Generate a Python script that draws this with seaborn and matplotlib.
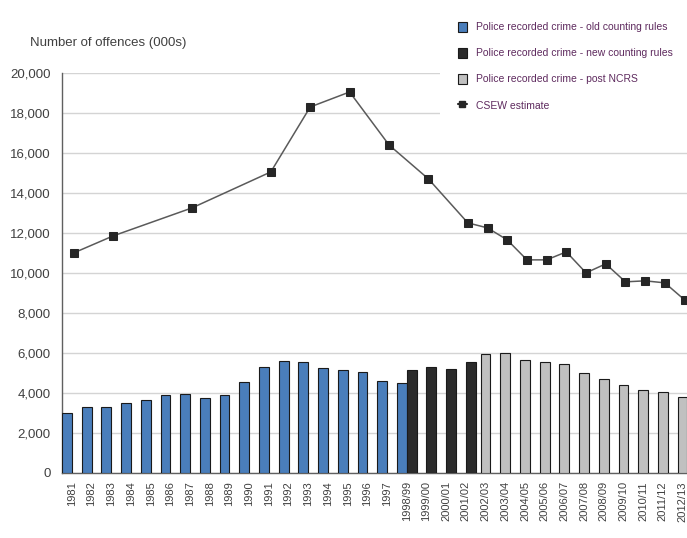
import numpy as np
import pandas as pd
import seaborn as sns
import matplotlib
matplotlib.use('Agg')
import matplotlib.pyplot as plt
from matplotlib.patches import Patch, Rectangle
from matplotlib.lines import Line2D

# Categories on the x axis
categories = ['1981', '1982', '1983', '1984', '1985', '1986', '1987', '1988', '1989',
              '1990', '1991', '1992', '1993', '1994', '1995', '1996', '1997',
              '1998/99', '1999/00', '2000/01', '2001/02', '2002/03', '2003/04',
              '2004/05', '2005/06', '2006/07', '2007/08', '2008/09', '2009/10',
              '2010/11', '2011/12', '2012/13']

# Police recorded crime - old counting rules (1981 .. 1998/99)
old_years = categories[:18]
old_values = [3000, 3280, 3280, 3500, 3620, 3870, 3930, 3720, 3870,
              4530, 5300, 5610, 5520, 5250, 5120, 5020, 4580, 4480]

# Police recorded crime - new counting rules (1998/99 .. 2001/02)
new_years = ['1998/99', '1999/00', '2000/01', '2001/02']
new_values = [5120, 5300, 5190, 5520]

# Police recorded crime - post NCRS (2002/03 .. 2012/13)
post_years = categories[21:]
post_values = [5960, 5970, 5620, 5560, 5460, 4980, 4710, 4370, 4150, 4040, 3770]

# CSEW estimate
csew_years = ['1981', '1983', '1987', '1991', '1993', '1995', '1997', '1999/00',
              '2001/02', '2002/03', '2003/04', '2004/05', '2005/06', '2006/07',
              '2007/08', '2008/09', '2009/10', '2010/11', '2011/12', '2012/13']
csew_values = [11000, 11850, 13250, 15050, 18300, 19050, 16400, 14700,
               12500, 12250, 11650, 10650, 10650, 11050, 10000, 10450,
               9550, 9600, 9500, 8650]

sns.set_style('white')
plt.rcParams['font.family'] = ['Liberation Sans', 'DejaVu Sans']

col_old = '#4a7ebb'
col_new = '#2b2b2b'
col_post = '#c0c0c0'
txt = '#404040'

fig = plt.figure(figsize=(6.87, 5.38), dpi=100)
ax = fig.add_axes([62 / 687, 65.3 / 538, 630.4 / 687, 399.7 / 538])

idx = {c: i for i, c in enumerate(categories)}

bar_kw = dict(native_scale=True, width=0.5, saturation=1, errorbar=None,
              edgecolor='#1a1a1a', linewidth=0.8, ax=ax, zorder=3)
sns.barplot(x=[idx[c] - 0.25 for c in old_years], y=old_values, color=col_old, **bar_kw)
sns.barplot(x=[idx[c] + 0.25 for c in new_years], y=new_values, color=col_new, **bar_kw)
sns.barplot(x=[idx[c] for c in post_years], y=post_values, color=col_post, **bar_kw)

sns.lineplot(x=[idx[c] + 0.1 for c in csew_years], y=csew_values, ax=ax,
             color='#5a5a5a', linewidth=1.1, marker='s', markersize=5.5,
             markerfacecolor='#262626', markeredgecolor='#262626', zorder=4)

# axes styling
ax.set_xlim(-0.5, len(categories) - 0.5)
ax.set_ylim(0, 20000)
ax.set_yticks(np.arange(0, 20001, 2000))
ax.set_yticklabels([f'{v:,}' for v in range(0, 20001, 2000)], fontsize=9.5, color=txt)
ax.set_xticks(range(len(categories)))
ax.set_xticklabels(categories, rotation=90, fontsize=8, color=txt)
ax.set_xticks(np.arange(-0.5, len(categories), 1), minor=True)
ax.tick_params(axis='x', which='major', length=0, pad=6)
ax.tick_params(axis='x', which='minor', length=5, width=0.8, color='#808080', direction='out')
ax.tick_params(axis='y', length=4, width=0.8, color='#808080', direction='out', pad=4)
ax.grid(axis='y', color='#d4d4d4', linewidth=1, zorder=0)
ax.set_axisbelow(True)
for s in ['top', 'right']:
    ax.spines[s].set_visible(False)
for s in ['left', 'bottom']:
    ax.spines[s].set_color('#606060')
    ax.spines[s].set_linewidth(1)
ax.set_xlabel('')
ax.set_ylabel('')

fig.text(30 / 687, 1 - 43 / 538, 'Number of offences (000s)', fontsize=9.5,
         color=txt, ha='left', va='center')

# white block behind the legend (hides the top gridlines there)
fig.patches.append(Rectangle((440 / 687, 1 - 125 / 538), 247 / 687, 125 / 538,
                             transform=fig.transFigure, facecolor='white',
                             edgecolor='none', zorder=5))

handles = [
    Patch(facecolor=col_old, edgecolor='#1a1a1a', linewidth=0.8),
    Patch(facecolor=col_new, edgecolor='#1a1a1a', linewidth=0.8),
    Patch(facecolor=col_post, edgecolor='#1a1a1a', linewidth=0.8),
    Line2D([0], [0], color='#262626', linewidth=1.5, marker='s', markersize=5),
]
labels = ['Police recorded crime - old counting rules',
          'Police recorded crime - new counting rules',
          'Police recorded crime - post NCRS',
          'CSEW estimate']
leg = fig.legend(handles, labels, loc='upper left', bbox_to_anchor=(445 / 687, 1 - 9 / 538),
                 frameon=False,
                 handlelength=0.9, handleheight=1.1, handletextpad=0.85,
                 labelspacing=1.5, borderpad=0.7,
                 prop={'family': 'Liberation Sans', 'size': 7.5},
                 labelcolor='#5e2a5e')
leg.set_zorder(10)

fig.savefig('out.png', dpi=100)
